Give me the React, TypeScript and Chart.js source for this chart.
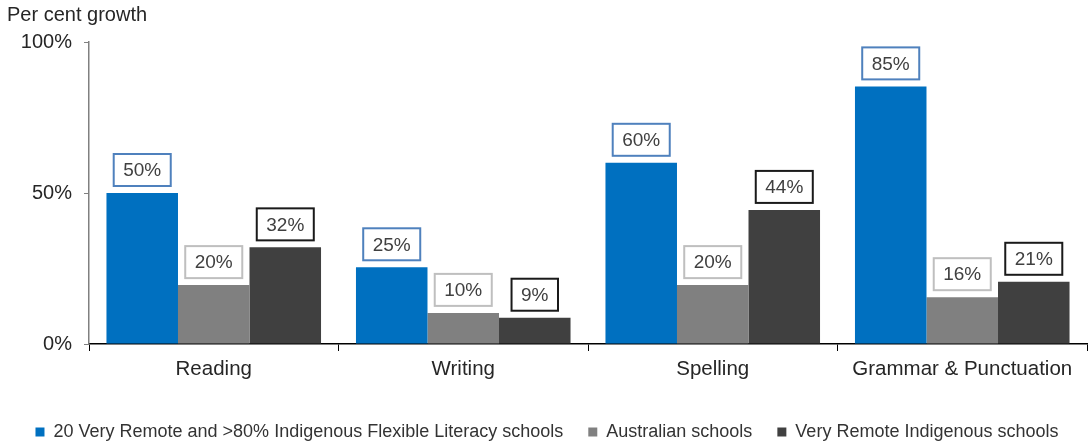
import React, { useEffect, useRef } from "react";
import { Chart, registerables } from "chart.js";

Chart.register(...registerables);

const categories = ["Reading", "Writing", "Spelling", "Grammar & Punctuation"];
const seriesNames = [
  "20 Very Remote and >80% Indigenous Flexible Literacy schools",
  "Australian schools",
  "Very Remote Indigenous schools",
];
const flexibleLiteracy = [50, 25.4, 60, 85.3];
const australianSchools = [19.5, 10.3, 19.5, 15.5];
const veryRemoteIndigenous = [32, 8.7, 44.4, 20.6];
const yTickValues = [0, 50, 100];

const FONT = "'Liberation Sans', Arial, sans-serif";
const barColors = ["#0070C0", "#808080", "#404040"];
const labelBorders = ["#4F81BD", "#BFBFBF", "#1A1A1A"];

const boxLabels = {
  id: "boxLabels",
  afterDatasetsDraw(chart: any) {
    const ctx = chart.ctx;
    ctx.save();
    ctx.font = `19px ${FONT}`;
    chart.data.datasets.forEach((ds: any, di: number) => {
      const meta = chart.getDatasetMeta(di);
      meta.data.forEach((el: any, i: number) => {
        const v = ds.data[i] as number;
        const text = Math.round(v) + "%";
        const w = ctx.measureText(text).width + 19;
        const h = 32;
        const x = el.x - w / 2;
        const y = el.y - 7 - h;
        ctx.fillStyle = "#ffffff";
        ctx.fillRect(x, y, w, h);
        ctx.lineWidth = 2;
        ctx.strokeStyle = labelBorders[di];
        ctx.strokeRect(x, y, w, h);
        ctx.fillStyle = "#404040";
        ctx.textAlign = "center";
        ctx.textBaseline = "middle";
        ctx.fillText(text, el.x, y + h / 2 + 1);
      });
    });
    ctx.restore();
  },
};

export default function App() {
  const ref = useRef<HTMLCanvasElement | null>(null);
  useEffect(() => {
    if (!ref.current) return;
    const chart = new Chart(ref.current, {
      type: "bar",
      data: {
        labels: categories,
        datasets: [flexibleLiteracy, australianSchools, veryRemoteIndigenous].map((d, i) => ({
          label: seriesNames[i],
          data: d,
          backgroundColor: barColors[i],
          borderWidth: 0,
          categoryPercentage: 0.86,
          barPercentage: 1.0,
        })),
      },
      options: {
        animation: false,
        responsive: true,
        maintainAspectRatio: false,
        layout: { padding: { left: 7, right: 2, top: 0, bottom: -8 } },
        plugins: {
          tooltip: { enabled: false },
          title: {
            display: true,
            text: "Per cent growth",
            align: "start",
            color: "#262626",
            font: { family: FONT, size: 20, weight: "normal" },
            padding: { top: 3, bottom: 15 },
          },
          legend: {
            position: "bottom",
            labels: {
              boxWidth: 9,
              boxHeight: 9,
              padding: 25,
              color: "#333333",
              font: { family: FONT, size: 18 },
            },
          },
        },
        scales: {
          x: {
            grid: { offset: true, drawOnChartArea: false, tickLength: 7, color: "#000000" },
            border: { color: "#000000", width: 1.5 },
            ticks: { color: "#262626", padding: 6, font: { family: FONT, size: 20.5 } },
            afterFit: (s: any) => {
              s.height = 54;
            },
          },
          y: {
            min: 0,
            max: 100,
            afterBuildTicks: (s: any) => {
              s.ticks = yTickValues.map((v) => ({ value: v }));
            },
            grid: { drawOnChartArea: false, tickLength: 5, color: "#808080" },
            border: { color: "#808080", width: 1.5 },
            ticks: {
              color: "#262626",
              padding: 12,
              font: { family: FONT, size: 20 },
              callback: (v: any) => v + "%",
            },
            afterFit: (s: any) => {
              s.width = 82;
            },
          },
        },
      },
      plugins: [boxLabels],
    } as any);
    return () => chart.destroy();
  }, []);
  return (
    <div style={{ position: "absolute", left: 0, top: 0, width: 1089, height: 443, background: "#fff" }}>
      <canvas ref={ref} />
    </div>
  );
}
